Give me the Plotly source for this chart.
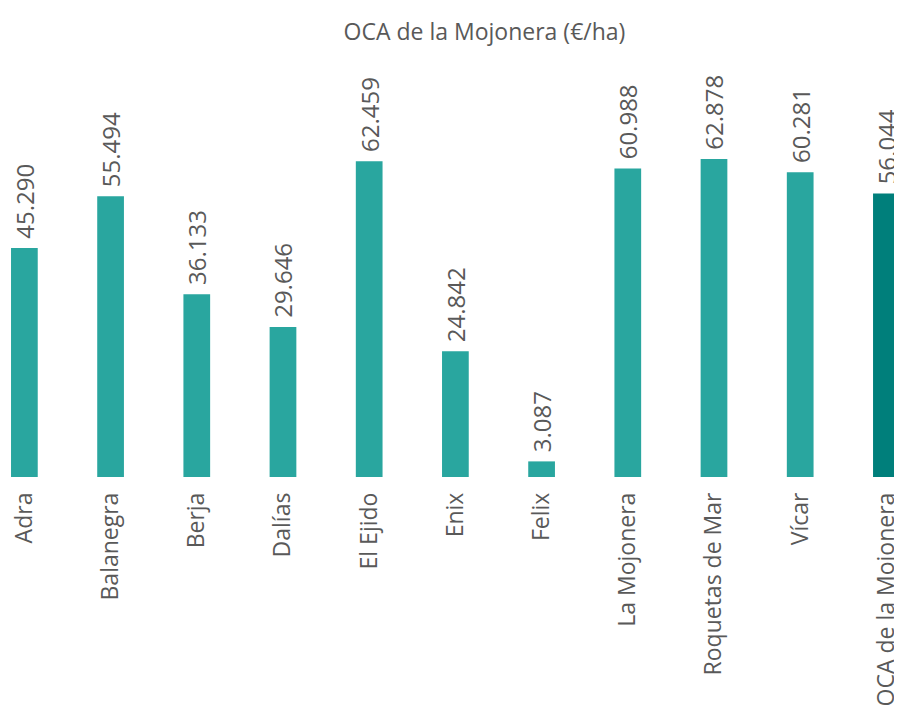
import plotly.graph_objects as go

categories = ["Adra", "Balanegra", "Berja", "Dalías", "El Ejido", "Enix", "Felix",
              "La Mojonera", "Roquetas de Mar", "Vícar", "OCA de la Mojonera"]
values = [45290, 55494, 36133, 29646, 62459, 24842, 3087, 60988, 62878, 60281, 56044]
title_text = "OCA de la Mojonera (€/ha)"

light = "#29A69F"
dark = "#007F7B"
colors = [light] * (len(categories) - 1) + [dark]
txt_color = "#595959"
font_family = "Open Sans, Lato, sans-serif"

labels = ["\u00a0" + f"{v:,}".replace(",", ".") for v in values]

fig = go.Figure()
fig.add_trace(go.Bar(
    x=categories, y=values,
    marker=dict(color=colors, line=dict(width=0)),
    text=labels, textposition="outside", textangle=-90,
    constraintext="none", cliponaxis=False,
    textfont=dict(family=font_family, size=24, color=txt_color),
    hoverinfo="skip",
))

fig.update_layout(
    width=894, height=703,
    margin=dict(l=0, r=0, t=52, b=234),
    paper_bgcolor="white", plot_bgcolor="white",
    bargap=0.69,
    showlegend=False,
    title=dict(text=title_text, x=(484.5 - 8) / 894, xanchor="center", y=1 - 24 / 703, yanchor="middle",
               font=dict(family=font_family, size=23, color=txt_color)),
    xaxis=dict(range=[-0.19, 10.181], showgrid=False, zeroline=False, showline=False,
               automargin=False,
               tickangle=-90, ticks="", ticklabelstandoff=10,
               tickfont=dict(family=font_family, size=23, color=txt_color)),
    yaxis=dict(range=[0, 82460], visible=False, showgrid=False, zeroline=False, automargin=False),
)

fig.write_html("out.html")
